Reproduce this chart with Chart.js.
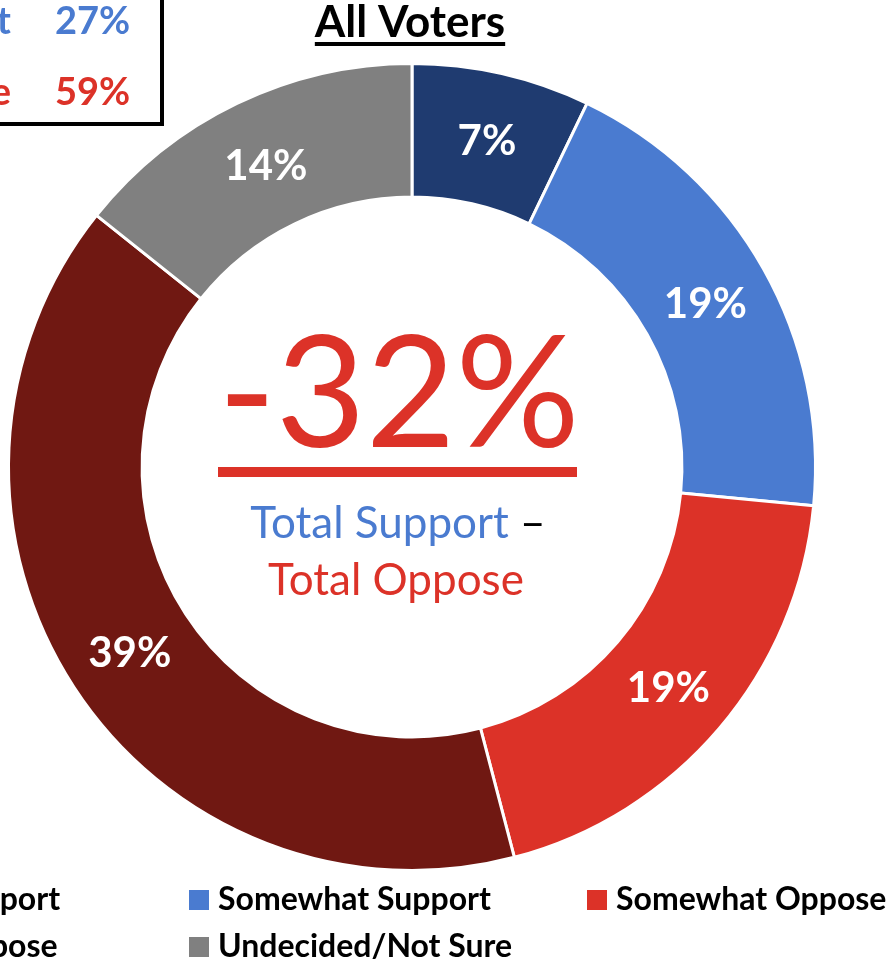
<!DOCTYPE html>
<html>
<head>
<meta charset="utf-8">
<script src="https://cdn.jsdelivr.net/npm/chart.js@4.4.1/dist/chart.umd.min.js"></script>
<style>
    html, body { margin: 0; padding: 0; background: #fff; overflow: hidden; }
    #wrap { position: relative; width: 887px; height: 963px; }
</style>
</head>
<body>
<div id="wrap"><canvas id="donut" width="887" height="963"></canvas></div>
<script>
const categories = ['Strongly Support', 'Somewhat Support', 'Somewhat Oppose', 'Strongly Oppose', 'Undecided/Not Sure'];
const shares = [7, 19, 19, 39, 14];
const sliceColors = ['#1f3b70', '#4a7bd0', '#dc3228', '#701812', '#808080'];
const totalLabels = ['Total Support', 'Total Oppose'];
const totalValues = [27, 59];
const totalColors = ['#4a7bd0', '#dc3228'];
const chartTitle = 'All Voters';

const FONT = 'Lato, "Open Sans", sans-serif';

// labels in the middle of each slice
const sliceLabels = {
    id: 'sliceLabels',
    afterDatasetsDraw(chart) {
        const ctx = chart.ctx;
        const meta = chart.getDatasetMeta(0);
        ctx.save();
        ctx.font = 'bold 42px ' + FONT;
        ctx.fillStyle = '#fff';
        ctx.textAlign = 'center';
        ctx.textBaseline = 'middle';
        meta.data.forEach(function (arc, i) {
            const p = arc.tooltipPosition();
            ctx.fillText(chart.data.datasets[0].data[i] + '%', p.x, p.y + 3);
        });
        ctx.restore();
    }
};

// title, net number in the hole, totals box and legend
const decorations = {
    id: 'decorations',
    afterDraw(chart) {
        const ctx = chart.ctx;
        ctx.save();

        // title
        ctx.font = 'bold 44px ' + FONT;
        ctx.fillStyle = '#000';
        ctx.textAlign = 'center';
        ctx.textBaseline = 'alphabetic';
        ctx.fillText(chartTitle, 410, 37);
        const tw = ctx.measureText(chartTitle).width;
        ctx.fillRect(410 - tw / 2, 42, tw, 4);

        // net support in the centre
        const net = totalValues[0] - totalValues[1];
        ctx.font = '155px ' + FONT;
        ctx.fillStyle = totalColors[1];
        ctx.fillText(net + '%', 399, 447);
        ctx.fillRect(218, 467, 359, 10);

        ctx.font = '44px ' + FONT;
        const part1 = totalLabels[0] + ' ';
        const part2 = '\u2013';
        const w1 = ctx.measureText(part1).width;
        const w2 = ctx.measureText(part2).width;
        let x = 398 - (w1 + w2) / 2;
        ctx.textAlign = 'left';
        ctx.fillStyle = totalColors[0];
        ctx.fillText(part1, x, 538);
        ctx.fillStyle = '#000';
        ctx.fillText(part2, x + w1, 538);
        ctx.textAlign = 'center';
        ctx.fillStyle = totalColors[1];
        ctx.fillText(totalLabels[1], 396, 595);

        // totals box (cut by the page edge)
        ctx.lineWidth = 4;
        ctx.strokeStyle = '#000';
        ctx.strokeRect(-300, -20, 462, 144);
        ctx.font = 'bold 38px ' + FONT;
        [34, 105].forEach(function (y, i) {
            ctx.fillStyle = totalColors[i];
            ctx.textAlign = 'right';
            ctx.fillText(totalLabels[i], 11, y);
            ctx.textAlign = 'left';
            ctx.fillText(totalValues[i] + '%', 55, y);
        });

        // legend, three per row
        ctx.font = 'bold 32px ' + FONT;
        ctx.textAlign = 'left';
        ctx.textBaseline = 'alphabetic';
        const colX = [-209, 189, 587];
        const rowY = [910, 957];
        chart.data.labels.forEach(function (lab, i) {
            const sx = colX[i % 3];
            const by = rowY[Math.floor(i / 3)];
            ctx.fillStyle = chart.data.datasets[0].backgroundColor[i];
            ctx.fillRect(sx, by - 20, 20, 20);
            ctx.fillStyle = '#000';
            ctx.fillText(lab, sx + 29, by);
        });

        ctx.restore();
    }
};

document.fonts.load('bold 30px Lato').then(function () {
    return document.fonts.load('30px Lato');
}).finally(function () {
    new Chart(document.getElementById('donut'), {
        type: 'doughnut',
        data: {
            labels: categories,
            datasets: [{
                data: shares,
                backgroundColor: sliceColors,
                borderColor: '#ffffff',
                borderWidth: 3
            }]
        },
        options: {
            responsive: false,
            animation: false,
            cutout: '66.9%',
            layout: {
                padding: {left: 7, top: 62, right: 70, bottom: 91}
            },
            plugins: {
                legend: {display: false},
                tooltip: {enabled: false}
            },
            events: []
        },
        plugins: [sliceLabels, decorations]
    });
});
</script>
</body>
</html>
